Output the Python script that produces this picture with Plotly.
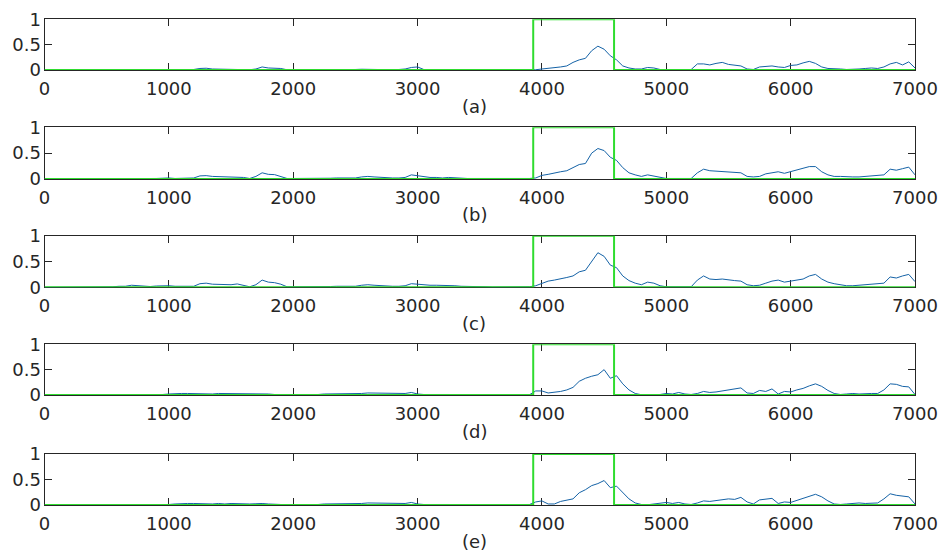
import plotly.graph_objects as go

# ---------------- data ----------------
x_vals = list(range(0, 7001, 50))

score_a = [
    0, 0, 0, 0, 0, 0, 0, 0, 0, 0, 0, 0, 0, 0, 0, 0, 0, 0, 0.005, 0.005,
    0.01, 0.005, 0.01, 0.005, 0.01, 0.03, 0.035, 0.02, 0.015, 0.01, 0.005, 0.01, 0.005, 0.005, 0.02, 0.06, 0.04, 0.04, 0.03, 0.005,
    0.005, 0.005, 0, 0, 0.005, 0.005, 0.01, 0.005, 0.01, 0.005, 0.01, 0.015, 0.01, 0.01, 0.005, 0.005, 0.005, 0.01, 0.02, 0.05,
    0.06, 0.01, 0.005, 0.005, 0, 0, 0, 0, 0, 0, 0, 0, 0, 0, 0, 0, 0, 0, 0, 0.005,
    0.02, 0.03, 0.04, 0.06, 0.08, 0.15, 0.2, 0.23, 0.38, 0.47, 0.41, 0.28, 0.2, 0.08, 0.04, 0.02, 0.02, 0.05, 0.04, 0.01,
    0.005, 0, 0, 0, 0.01, 0.12, 0.12, 0.1, 0.13, 0.15, 0.11, 0.1, 0.08, 0.02, 0.01, 0.06, 0.07, 0.08, 0.06, 0.05,
    0.09, 0.1, 0.14, 0.17, 0.13, 0.06, 0.03, 0.03, 0.02, 0.01, 0.01, 0.02, 0.03, 0.04, 0.03, 0.06, 0.12, 0.15, 0.1, 0.16,
    0.04,
]
score_b = [
    0, 0, 0, 0, 0, 0, 0, 0, 0, 0, 0, 0, 0.005, 0.005, 0.005, 0.005, 0.01, 0.01, 0.01, 0.015,
    0.02, 0.01, 0.015, 0.01, 0.02, 0.06, 0.065, 0.05, 0.045, 0.04, 0.045, 0.04, 0.03, 0.01, 0.05, 0.12, 0.09, 0.085, 0.05, 0.01,
    0.01, 0.01, 0.01, 0.005, 0.01, 0.01, 0.015, 0.02, 0.015, 0.02, 0.02, 0.04, 0.05, 0.04, 0.03, 0.02, 0.02, 0.02, 0.03, 0.08,
    0.06, 0.04, 0.03, 0.03, 0.02, 0.03, 0.02, 0.01, 0.01, 0.01, 0.01, 0.01, 0.005, 0.005, 0.005, 0.005, 0.005, 0.01, 0.01, 0.02,
    0.07, 0.09, 0.12, 0.14, 0.16, 0.22, 0.28, 0.3, 0.5, 0.59, 0.55, 0.42, 0.36, 0.22, 0.12, 0.08, 0.05, 0.08, 0.06, 0.03,
    0.01, 0.01, 0.01, 0.005, 0.01, 0.12, 0.19, 0.16, 0.15, 0.14, 0.14, 0.13, 0.12, 0.05, 0.04, 0.05, 0.1, 0.12, 0.14, 0.11,
    0.14, 0.18, 0.2, 0.24, 0.24, 0.14, 0.08, 0.05, 0.05, 0.04, 0.04, 0.04, 0.05, 0.06, 0.07, 0.08, 0.19, 0.17, 0.2, 0.23,
    0.08,
]
score_c = [
    0, 0, 0, 0, 0, 0, 0, 0, 0.005, 0.005, 0.01, 0.01, 0.02, 0.02, 0.04, 0.03, 0.02, 0.015, 0.025, 0.03,
    0.03, 0.02, 0.02, 0.01, 0.02, 0.07, 0.08, 0.06, 0.06, 0.05, 0.05, 0.065, 0.03, 0.01, 0.05, 0.14, 0.1, 0.09, 0.06, 0.01,
    0.01, 0.01, 0.01, 0.005, 0.01, 0.01, 0.015, 0.02, 0.02, 0.02, 0.02, 0.04, 0.05, 0.04, 0.03, 0.02, 0.02, 0.02, 0.03, 0.07,
    0.06, 0.04, 0.04, 0.04, 0.04, 0.04, 0.03, 0.02, 0.02, 0.01, 0.01, 0.01, 0.005, 0.005, 0.005, 0.005, 0.005, 0.01, 0.01, 0.03,
    0.08, 0.12, 0.14, 0.16, 0.19, 0.22, 0.3, 0.33, 0.5, 0.67, 0.6, 0.43, 0.38, 0.22, 0.13, 0.08, 0.05, 0.1, 0.08, 0.03,
    0.01, 0.01, 0.01, 0.005, 0.01, 0.14, 0.22, 0.16, 0.15, 0.16, 0.14, 0.13, 0.12, 0.05, 0.03, 0.04, 0.08, 0.12, 0.14, 0.1,
    0.12, 0.14, 0.16, 0.22, 0.25, 0.16, 0.1, 0.07, 0.05, 0.03, 0.03, 0.04, 0.05, 0.06, 0.06, 0.08, 0.2, 0.18, 0.22, 0.25,
    0.11,
]
score_d = [
    0, 0, 0, 0, 0, 0, 0, 0, 0, 0, 0, 0, 0.005, 0.005, 0.005, 0.005, 0.01, 0.01, 0.01, 0.01,
    0.02, 0.03, 0.03, 0.03, 0.025, 0.03, 0.03, 0.02, 0.03, 0.03, 0.02, 0.02, 0.02, 0.03, 0.03, 0.03, 0.02, 0.01, 0.01, 0.005,
    0.005, 0.005, 0.01, 0.005, 0.01, 0.02, 0.02, 0.02, 0.02, 0.03, 0.03, 0.03, 0.04, 0.04, 0.04, 0.03, 0.04, 0.04, 0.03, 0.05,
    0.02, 0.01, 0.01, 0.01, 0.02, 0.01, 0.005, 0.005, 0, 0, 0, 0, 0, 0, 0, 0, 0, 0, 0.005, 0.08,
    0.08, 0.04, 0.05, 0.07, 0.1, 0.15, 0.27, 0.33, 0.37, 0.4, 0.5, 0.33, 0.38, 0.22, 0.1, 0.03, 0.005, 0.005, 0.01, 0.01,
    0.03, 0.02, 0.05, 0.02, 0.01, 0.03, 0.07, 0.05, 0.06, 0.08, 0.1, 0.11, 0.14, 0.04, 0.03, 0.09, 0.07, 0.12, 0.02, 0.07,
    0.06, 0.1, 0.13, 0.18, 0.22, 0.17, 0.09, 0.03, 0.01, 0.02, 0.03, 0.02, 0.03, 0.03, 0.03, 0.1, 0.22, 0.21, 0.17, 0.16,
    0.01,
]
score_e = [
    0, 0, 0, 0, 0, 0, 0, 0, 0, 0, 0, 0, 0, 0, 0, 0.005, 0.01, 0.01, 0.01, 0.005,
    0.01, 0.02, 0.03, 0.03, 0.03, 0.025, 0.03, 0.02, 0.03, 0.02, 0.03, 0.025, 0.02, 0.02, 0.025, 0.03, 0.02, 0.01, 0.01, 0.005,
    0.005, 0.005, 0.01, 0.005, 0.01, 0.02, 0.02, 0.02, 0.02, 0.03, 0.02, 0.03, 0.04, 0.04, 0.04, 0.03, 0.04, 0.03, 0.03, 0.05,
    0.02, 0.01, 0.01, 0.01, 0.02, 0.01, 0.005, 0.005, 0, 0, 0, 0, 0, 0, 0, 0, 0, 0, 0.01, 0.06,
    0.08, 0.02, 0.02, 0.07, 0.1, 0.12, 0.24, 0.3, 0.38, 0.42, 0.48, 0.34, 0.37, 0.24, 0.12, 0.04, 0.01, 0.005, 0.02, 0.03,
    0.05, 0.03, 0.05, 0.02, 0.01, 0.04, 0.08, 0.07, 0.09, 0.1, 0.12, 0.11, 0.15, 0.06, 0.02, 0.1, 0.12, 0.13, 0.03, 0.06,
    0.05, 0.09, 0.13, 0.17, 0.21, 0.16, 0.08, 0.02, 0.01, 0.02, 0.03, 0.04, 0.03, 0.03, 0.04, 0.12, 0.22, 0.19, 0.18, 0.16,
    0.02,
]

# ground-truth window (green)
gt_x = [0, 3930, 3930, 4580, 4580, 7000]
gt_y = [0, 0, 1, 1, 0, 0]

panel_labels = ["(a)", "(b)", "(c)", "(d)", "(e)"]
x_tick_vals = [0, 1000, 2000, 3000, 4000, 5000, 6000, 7000]
x_tick_text = ["0", "1000", "2000", "3000", "4000", "5000", "6000", "7000"]
y_tick_vals = [0, 0.5, 1]
y_tick_text = ["0", "0.5", "1"]

series = [score_a, score_b, score_c, score_d, score_e]
for s in series:
    assert len(s) == len(x_vals), len(s)

# ---------------- layout ----------------
W, H = 940, 551
x_left, x_right = 44.5, 915.0
panel_px = [(19.3, 70.0), (127.3, 179.0), (235.7, 287.3), (344.3, 395.0), (454.0, 505.0)]

BLUE = "#1462a6"
GREEN = "#2fdc2f"
AXC = "#262626"
FONT = dict(family="DejaVu Sans, Liberation Sans, Arial", size=18, color=AXC)

fig = go.Figure()
layout = dict(
    width=W, height=H,
    margin=dict(l=0, r=0, t=0, b=0, autoexpand=False),
    paper_bgcolor="white", plot_bgcolor="white",
    showlegend=False,
    font=FONT,
    annotations=[],
)

for i, (s, lab, (top, bot)) in enumerate(zip(series, panel_labels, panel_px)):
    n = "" if i == 0 else str(i + 1)
    xa, ya = "x" + n, "y" + n
    fig.add_trace(go.Scatter(x=x_vals, y=s, mode="lines", xaxis=xa, yaxis=ya,
                             line=dict(color=BLUE, width=1)))
    fig.add_trace(go.Scatter(x=gt_x, y=gt_y, mode="lines", xaxis=xa, yaxis=ya,
                             line=dict(color=GREEN, width=2)))
    layout["xaxis" + n] = dict(
        domain=[x_left / W, x_right / W], anchor=ya, range=[0, 7000],
        tickmode="array", tickvals=x_tick_vals, ticktext=x_tick_text,
        ticks="inside", ticklen=7, tickwidth=1, tickcolor=AXC,
        showline=True, linecolor=AXC, linewidth=1, mirror="allticks",
        showgrid=False, zeroline=False, layer="below traces",
        tickfont=FONT, ticklabelstandoff=2, automargin=False,
    )
    layout["yaxis" + n] = dict(
        domain=[1 - bot / H, 1 - top / H], anchor=xa, range=[0, 1],
        tickmode="array", tickvals=y_tick_vals, ticktext=y_tick_text,
        ticks="inside", ticklen=7, tickwidth=1, tickcolor=AXC,
        showline=True, linecolor=AXC, linewidth=1, mirror="allticks",
        showgrid=False, zeroline=False, layer="below traces",
        tickfont=FONT, ticklabelstandoff=-1, automargin=False,
    )
    layout["annotations"].append(dict(
        text=lab, xref="paper", yref="paper", x=474 / W, y=1 - (bot + 36) / H,
        xanchor="center", yanchor="middle", showarrow=False, font=FONT,
    ))

fig.update_layout(**layout)
fig.write_html(
    "out.html",
    config={"displayModeBar": False},
    post_script="document.body.style.margin='0';document.body.style.overflow='hidden';",
)
